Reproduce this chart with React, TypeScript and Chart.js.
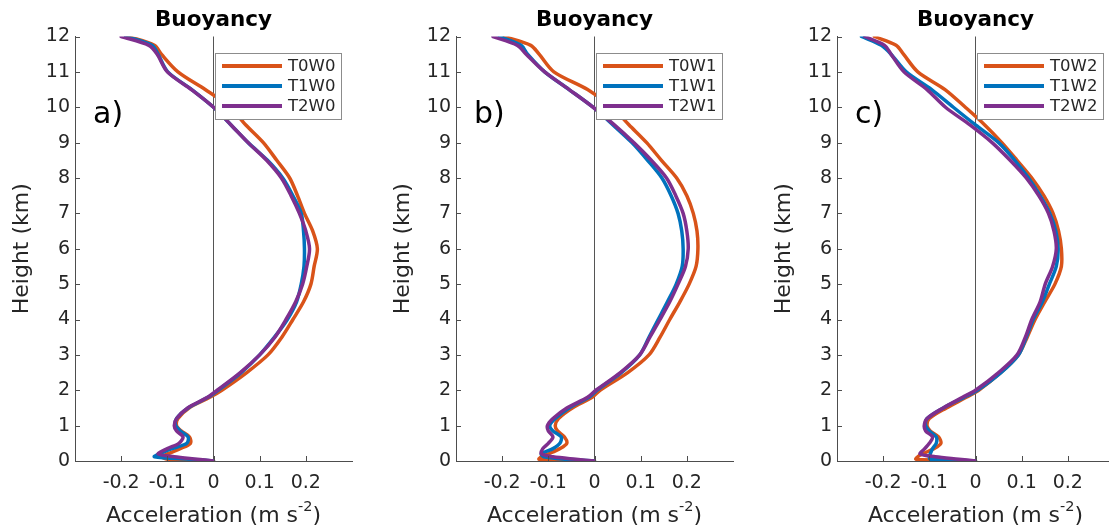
import React, { useEffect, useRef } from 'react';
import { Chart, registerables } from 'chart.js';

Chart.register(...registerables);

// Heights (km) shared by every profile
const heights = [0, 0.05, 0.12, 0.2, 0.35, 0.5, 0.68, 0.85, 1.0, 1.2, 1.5, 1.8, 2.0, 2.5, 3, 3.5, 4, 4.5, 5, 5.5, 6, 6.5, 7, 7.5, 8, 8.5, 9, 9.5, 10, 10.5, 11, 11.5, 11.75, 12];

// Panel a)
const aNames = ['T0W0', 'T1W0', 'T2W0'];
const a_T0W0 = [0, -0.1, -0.112, -0.1, -0.072, -0.05, -0.052, -0.07, -0.08, -0.077, -0.053, -0.008, 0.018, 0.072, 0.118, 0.148, 0.172, 0.195, 0.211, 0.218, 0.225, 0.215, 0.197, 0.182, 0.165, 0.137, 0.108, 0.07, 0.036, -0.018, -0.077, -0.113, -0.128, -0.185];
const a_T1W0 = [0, -0.053, -0.128, -0.118, -0.09, -0.058, -0.055, -0.072, -0.082, -0.08, -0.055, -0.012, 0.01, 0.06, 0.1, 0.132, 0.16, 0.18, 0.19, 0.196, 0.197, 0.195, 0.19, 0.172, 0.15, 0.117, 0.075, 0.038, 0.0, -0.047, -0.099, -0.12, -0.133, -0.19];
const a_T2W0 = [0, -0.035, -0.085, -0.12, -0.1, -0.075, -0.066, -0.08, -0.085, -0.08, -0.056, -0.013, 0.008, 0.058, 0.1, 0.133, 0.157, 0.178, 0.193, 0.202, 0.208, 0.2, 0.186, 0.168, 0.147, 0.115, 0.075, 0.038, 0.0, -0.048, -0.1, -0.122, -0.14, -0.2];

// Panel b)
const bNames = ['T0W1', 'T1W1', 'T2W1'];
const b_T0W1 = [0, -0.12, -0.115, -0.1, -0.075, -0.06, -0.065, -0.08, -0.085, -0.078, -0.048, -0.005, 0.012, 0.072, 0.118, 0.142, 0.163, 0.185, 0.205, 0.22, 0.224, 0.222, 0.214, 0.2, 0.178, 0.145, 0.113, 0.075, 0.038, -0.015, -0.088, -0.12, -0.138, -0.195];
const b_T1W1 = [0, -0.06, -0.11, -0.115, -0.09, -0.075, -0.072, -0.09, -0.097, -0.085, -0.055, -0.012, 0.005, 0.058, 0.098, 0.118, 0.138, 0.158, 0.177, 0.19, 0.192, 0.189, 0.181, 0.166, 0.146, 0.115, 0.081, 0.04, -0.003, -0.055, -0.108, -0.145, -0.159, -0.206];
const b_T2W1 = [0, -0.04, -0.09, -0.115, -0.112, -0.1, -0.09, -0.1, -0.102, -0.09, -0.06, -0.015, 0.003, 0.056, 0.098, 0.12, 0.142, 0.163, 0.181, 0.197, 0.203, 0.2, 0.192, 0.176, 0.156, 0.123, 0.085, 0.043, -0.003, -0.055, -0.108, -0.148, -0.167, -0.22];

// Panel c)
const cNames = ['T0W2', 'T1W2', 'T2W2'];
const c_T0W2 = [0, -0.129, -0.125, -0.115, -0.09, -0.075, -0.08, -0.098, -0.105, -0.1, -0.063, -0.02, 0.007, 0.055, 0.093, 0.112, 0.129, 0.15, 0.172, 0.186, 0.186, 0.18, 0.168, 0.148, 0.122, 0.09, 0.057, 0.02, -0.022, -0.066, -0.125, -0.156, -0.172, -0.219];
const c_T1W2 = [0, -0.098, -0.1, -0.098, -0.093, -0.085, -0.085, -0.1, -0.108, -0.105, -0.07, -0.025, 0.004, 0.055, 0.093, 0.11, 0.125, 0.145, 0.16, 0.175, 0.179, 0.174, 0.161, 0.14, 0.115, 0.085, 0.05, 0.0, -0.048, -0.095, -0.15, -0.183, -0.204, -0.247];
const c_T2W2 = [0, -0.036, -0.087, -0.12, -0.11, -0.1, -0.093, -0.108, -0.111, -0.105, -0.07, -0.028, 0.0, 0.05, 0.09, 0.108, 0.122, 0.14, 0.151, 0.167, 0.175, 0.17, 0.158, 0.137, 0.11, 0.075, 0.036, -0.012, -0.065, -0.105, -0.155, -0.183, -0.197, -0.24];

const xTickValues = [-0.2, -0.1, 0, 0.1, 0.2];
const yTickValues = [0, 1, 2, 3, 4, 5, 6, 7, 8, 9, 10, 11, 12];

const COLORS = ['#D95319', '#0072BD', '#7E2F8E'];
const FONT = '"DejaVu Sans", "Liberation Sans", sans-serif';
const AXIS_COLOR = '#4d4d4d';
const TEXT_COLOR = '#262626';

const PANEL_W = 381;
const PANEL_H = 529;

const panels = [
  { label: 'a)', names: aNames, series: [a_T0W0, a_T1W0, a_T2W0] },
  { label: 'b)', names: bNames, series: [b_T0W1, b_T1W1, b_T2W1] },
  { label: 'c)', names: cNames, series: [c_T0W2, c_T1W2, c_T2W2] },
];

const decorPlugin = {
  id: 'decor',
  afterDraw(chart: any, _args: any, opts: any) {
    const { ctx, chartArea: ca } = chart;
    const xs = chart.scales.x;
    const ys = chart.scales.y;
    ctx.save();

    // inward tick marks
    ctx.strokeStyle = AXIS_COLOR;
    ctx.lineWidth = 1;
    ctx.beginPath();
    xTickValues.forEach((v) => {
      const px = Math.round(xs.getPixelForValue(v)) + 0.5;
      ctx.moveTo(px, ca.bottom);
      ctx.lineTo(px, ca.bottom - 5);
    });
    yTickValues.forEach((v) => {
      const py = Math.round(ys.getPixelForValue(v)) + 0.5;
      ctx.moveTo(ca.left, py);
      ctx.lineTo(ca.left + 5, py);
    });
    ctx.stroke();

    // panel label
    ctx.fillStyle = '#000';
    ctx.font = `30px ${FONT}`;
    ctx.textAlign = 'left';
    ctx.textBaseline = 'middle';
    ctx.fillText(opts.label, ca.left + 18, 115);

    // legend
    const bw = 126;
    const bh = 66;
    const bx = Math.round(ca.right - 11 - bw);
    const by = Math.round(ca.top + 16);
    ctx.fillStyle = '#fff';
    ctx.fillRect(bx, by, bw, bh);
    ctx.strokeStyle = '#8c8c8c';
    ctx.lineWidth = 1;
    ctx.strokeRect(bx + 0.5, by + 0.5, bw, bh);
    ctx.font = `16.5px ${FONT}`;
    ctx.textBaseline = 'middle';
    chart.data.datasets.forEach((ds: any, i: number) => {
      const y = by + 13 + i * 20;
      ctx.strokeStyle = ds.borderColor;
      ctx.lineWidth = 4;
      ctx.beginPath();
      ctx.moveTo(bx + 7, y);
      ctx.lineTo(bx + 67, y);
      ctx.stroke();
      ctx.fillStyle = TEXT_COLOR;
      ctx.fillText(ds.label, bx + 73, y + 1);
    });

    // x-axis title with superscript
    const main = 'Acceleration (m s';
    const sup = '-2';
    const close = ')';
    ctx.textBaseline = 'alphabetic';
    ctx.font = `22px ${FONT}`;
    const w1 = ctx.measureText(main).width;
    const w3 = ctx.measureText(close).width;
    ctx.font = `14.5px ${FONT}`;
    const w2 = ctx.measureText(sup).width;
    const total = w1 + w2 + w3;
    const x0 = (ca.left + ca.right) / 2 - total / 2;
    const base = 521.5;
    ctx.fillStyle = TEXT_COLOR;
    ctx.font = `22px ${FONT}`;
    ctx.fillText(main, x0, base);
    ctx.font = `14.5px ${FONT}`;
    ctx.fillText(sup, x0 + w1, base - 11);
    ctx.font = `22px ${FONT}`;
    ctx.fillText(close, x0 + w1 + w2, base);

    ctx.restore();
  },
};

function Panel({ label, names, series, left }: { label: string; names: string[]; series: number[][]; left: number }) {
  const ref = useRef<HTMLCanvasElement>(null);
  useEffect(() => {
    const canvas = ref.current;
    if (!canvas) return;
    const chart = new Chart(canvas, {
      type: 'scatter',
      data: {
        datasets: series.map((vals, i) => ({
          label: names[i],
          data: heights.map((h, j) => ({ x: vals[j], y: h })),
          showLine: true,
          borderColor: COLORS[i],
          backgroundColor: COLORS[i],
          borderWidth: 3.5,
          borderJoinStyle: 'round',
          borderCapStyle: 'round',
          pointRadius: 0,
          pointHoverRadius: 0,
          tension: 0.3,
          order: 2 - i,
        })),
      },
      options: {
        responsive: false,
        animation: false,
        events: [],
        layout: { padding: { left: 0, right: 29, top: 0, bottom: 0 } },
        plugins: {
          legend: { display: false },
          tooltip: { enabled: false },
          title: {
            display: true,
            text: 'Buoyancy',
            fullSize: false,
            color: '#000',
            font: { family: FONT, size: 21.5, weight: 'bold' },
            padding: { top: 8, bottom: 2.7 },
          },
          decor: { label },
        } as any,
        scales: {
          x: {
            type: 'linear',
            min: -0.3,
            max: 0.3,
            afterBuildTicks: (s: any) => {
              s.ticks = xTickValues.map((v) => ({ value: v }));
            },
            afterFit: (s: any) => {
              s.height = PANEL_H - 461;
            },
            ticks: {
              color: TEXT_COLOR,
              font: { family: FONT, size: 19 },
              padding: 11,
              maxRotation: 0,
              autoSkip: false,
              callback: (v: any) => (Number(v) === 0 ? '0' : Number(v).toFixed(1)),
            },
            grid: {
              drawTicks: false,
              lineWidth: 1,
              color: (c: any) => (c.tick && Math.abs(c.tick.value) < 1e-9 ? '#555555' : 'rgba(0,0,0,0)'),
            },
            border: { display: true, color: AXIS_COLOR, width: 1 },
          },
          y: {
            type: 'linear',
            min: 0,
            max: 12,
            afterBuildTicks: (s: any) => {
              s.ticks = yTickValues.map((v) => ({ value: v }));
            },
            afterFit: (s: any) => {
              s.width = 75;
            },
            ticks: {
              color: TEXT_COLOR,
              font: { family: FONT, size: 19 },
              padding: 5,
              autoSkip: false,
            },
            grid: { display: false, drawTicks: false },
            border: { display: true, color: AXIS_COLOR, width: 1 },
            title: {
              display: true,
              text: 'Height (km)',
              color: TEXT_COLOR,
              font: { family: FONT, size: 22 },
              padding: { top: 9, bottom: 0 },
            },
          },
        },
      } as any,
      plugins: [decorPlugin],
    });
    return () => chart.destroy();
  }, []);
  return (
    <canvas
      ref={ref}
      width={PANEL_W}
      height={PANEL_H}
      style={{ position: 'absolute', left, top: 0, width: PANEL_W, height: PANEL_H, display: 'block' }}
    />
  );
}

export default function App() {
  return (
    <div
      style={{
        position: 'absolute',
        left: 0,
        top: 0,
        width: 1109,
        height: 529,
        overflow: 'hidden',
        background: '#fff',
      }}
    >
      {panels.map((p, i) => (
        <Panel key={p.label} label={p.label} names={p.names} series={p.series} left={i * PANEL_W} />
      ))}
    </div>
  );
}
